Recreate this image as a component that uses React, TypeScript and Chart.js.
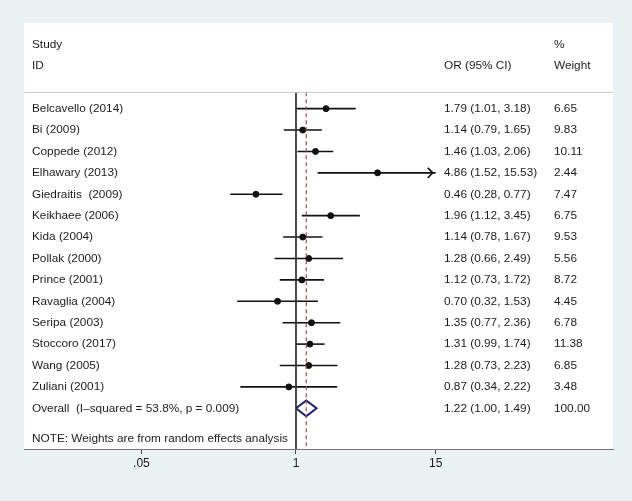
import React, { useEffect, useRef } from "react";
import { Chart, registerables } from "chart.js";
Chart.register(...registerables);

const studies = [
  "Belcavello (2014)",
  "Bi (2009)",
  "Coppede (2012)",
  "Elhawary (2013)",
  "Giedraitis  (2009)",
  "Keikhaee (2006)",
  "Kida (2004)",
  "Pollak (2000)",
  "Prince (2001)",
  "Ravaglia (2004)",
  "Seripa (2003)",
  "Stoccoro (2017)",
  "Wang (2005)",
  "Zuliani (2001)",
];
const orValues = [1.79, 1.14, 1.46, 4.86, 0.46, 1.96, 1.14, 1.28, 1.12, 0.7, 1.35, 1.31, 1.28, 0.87];
const lowerCI = [1.01, 0.79, 1.03, 1.52, 0.28, 1.12, 0.78, 0.66, 0.73, 0.32, 0.77, 0.99, 0.73, 0.34];
const upperCI = [3.18, 1.65, 2.06, 15.53, 0.77, 3.45, 1.67, 2.49, 1.72, 1.53, 2.36, 1.74, 2.23, 2.22];
const weights = [6.65, 9.83, 10.11, 2.44, 7.47, 6.75, 9.53, 5.56, 8.72, 4.45, 6.78, 11.38, 6.85, 3.48];
const overallLabel = "Overall  (I\u2013squared = 53.8%, p = 0.009)";
const overallOR = 1.22;
const overallLower = 1.0;
const overallUpper = 1.49;
const overallWeight = 100.0;
const noteText = "NOTE: Weights are from random effects analysis";
const tickValues = [0.05, 1, 15];
const tickLabels = [".05", "1", "15"];

const FONT = "'Liberation Sans', Arial, Helvetica, sans-serif";
const TEXT = "#1c1c1c";
const FSIZE = 11.8;

export default function App() {
  const ref = useRef<HTMLCanvasElement | null>(null);

  useEffect(() => {
    document.body.style.margin = "0";
    const canvas = ref.current;
    if (!canvas) return;
    const axisMax = tickValues[tickValues.length - 1];
    const n = studies.length;
    const overallRow = n;
    const headerTop = -3;
    const sepRow = -0.76;
    const bottomRow = 15.9;

    const ciSets = studies.map((_, i) => ({
      type: "line" as const,
      data: [
        { x: lowerCI[i], y: i },
        { x: Math.min(upperCI[i], axisMax), y: i },
      ],
      borderColor: "#111",
      borderWidth: 1.6,
      pointRadius: 0,
      showLine: true,
    }));

    const forestPlugin = {
      id: "forest",
      beforeDraw(chart: any) {
        const { ctx, chartArea: a, width, height } = chart;
        ctx.save();
        ctx.fillStyle = "#eaf2f4";
        ctx.fillRect(0, 0, width, height);
        ctx.fillStyle = "#ffffff";
        ctx.fillRect(a.left, a.top, a.right - a.left, a.bottom - a.top);
        ctx.restore();
      },
      afterDatasetsDraw(chart: any) {
        const { ctx, chartArea: a } = chart;
        const xs = chart.scales.x;
        const ys = chart.scales.y;
        const colStudy = a.left + 8;
        const colOR = a.left + 420;
        const colW = a.left + 530;
        ctx.save();
        ctx.fillStyle = TEXT;
        ctx.font = `${FSIZE}px ${FONT}`;
        ctx.textBaseline = "middle";
        ctx.textAlign = "left";
        // headers
        ctx.fillText("Study", colStudy, ys.getPixelForValue(headerTop));
        ctx.fillText("ID", colStudy, ys.getPixelForValue(headerTop + 1));
        ctx.fillText("OR (95% CI)", colOR, ys.getPixelForValue(headerTop + 1));
        ctx.fillText("%", colW, ys.getPixelForValue(headerTop));
        ctx.fillText("Weight", colW, ys.getPixelForValue(headerTop + 1));
        studies.forEach((s, i) => {
          const y = ys.getPixelForValue(i);
          ctx.fillText(s, colStudy, y);
          ctx.fillText(
            `${orValues[i].toFixed(2)} (${lowerCI[i].toFixed(2)}, ${upperCI[i].toFixed(2)})`,
            colOR,
            y
          );
          ctx.fillText(weights[i].toFixed(2), colW, y);
        });
        const yo = ys.getPixelForValue(overallRow);
        ctx.fillText(overallLabel, colStudy, yo);
        ctx.fillText(
          `${overallOR.toFixed(2)} (${overallLower.toFixed(2)}, ${overallUpper.toFixed(2)})`,
          colOR,
          yo
        );
        ctx.fillText(overallWeight.toFixed(2), colW, yo);
        ctx.fillText(noteText, colStudy, ys.getPixelForValue(overallRow + 1.4));

        // arrows for clipped CIs
        ctx.strokeStyle = "#111";
        ctx.lineWidth = 1.6;
        studies.forEach((_, i) => {
          if (upperCI[i] > axisMax) {
            const tx = xs.getPixelForValue(axisMax) - 3;
            const ty = ys.getPixelForValue(i);
            ctx.beginPath();
            ctx.moveTo(tx - 5, ty - 5);
            ctx.lineTo(tx, ty);
            ctx.lineTo(tx - 5, ty + 5);
            ctx.stroke();
          }
        });
        ctx.restore();
      },
    };

    const chart = new Chart(canvas, {
      type: "scatter",
      data: {
        datasets: [
          {
            type: "line",
            data: [
              { x: 0.0001, y: sepRow },
              { x: 100000, y: sepRow },
            ],
            borderColor: "#c9c9c9",
            borderWidth: 1,
            pointRadius: 0,
          },
          {
            type: "line",
            data: [
              { x: 1, y: sepRow },
              { x: 1, y: bottomRow },
            ],
            borderColor: "#333",
            borderWidth: 1,
            pointRadius: 0,
          },
          {
            type: "line",
            data: [
              { x: overallOR, y: sepRow },
              { x: overallOR, y: bottomRow },
            ],
            borderColor: "#9a4d52",
            borderWidth: 1.2,
            borderDash: [4, 3],
            pointRadius: 0,
          },
          ...ciSets,
          {
            type: "scatter",
            data: orValues.map((v, i) => ({ x: v, y: i })),
            backgroundColor: "#111",
            borderColor: "#111",
            pointRadius: 3,
          },
          {
            type: "line",
            data: [
              { x: overallLower, y: overallRow },
              { x: overallOR, y: overallRow - 0.37 },
              { x: overallUpper, y: overallRow },
              { x: overallOR, y: overallRow + 0.37 },
              { x: overallLower, y: overallRow },
            ],
            borderColor: "#1c1c6e",
            borderWidth: 2,
            pointRadius: 0,
            fill: false,
          },
        ] as any,
      },
      options: {
        animation: false,
        responsive: false,
        devicePixelRatio: 1,
        layout: { padding: { left: 24, right: 19, top: 23, bottom: 22 } },
        plugins: { legend: { display: false }, tooltip: { enabled: false } },
        scales: {
          x: {
            type: "logarithmic",
            min: 0.00514,
            max: 465.6,
            afterBuildTicks: (s: any) => {
              s.ticks = tickValues.map((v) => ({ value: v }));
            },
            afterFit: (s: any) => {
              s.height = 30;
            },
            ticks: {
              autoSkip: false,
              maxRotation: 0,
              padding: 2,
              color: TEXT,
              font: { size: 12, family: FONT },
              callback: (v: any) => {
                const idx = tickValues.findIndex((t) => Math.abs(t - Number(v)) < 1e-9);
                return idx >= 0 ? tickLabels[idx] : "";
              },
            },
            grid: {
              drawOnChartArea: false,
              drawTicks: true,
              tickLength: 5,
              color: "#444",
            },
            border: { display: true, color: "#777", width: 1 },
          },
          y: {
            type: "linear",
            min: -4,
            max: bottomRow,
            reverse: true,
            display: false,
          },
        },
      },
      plugins: [forestPlugin],
    });
    return () => chart.destroy();
  }, []);

  return (
    <div style={{ width: 632, height: 501 }}>
      <canvas ref={ref} width={632} height={501} style={{ display: "block" }} />
    </div>
  );
}
